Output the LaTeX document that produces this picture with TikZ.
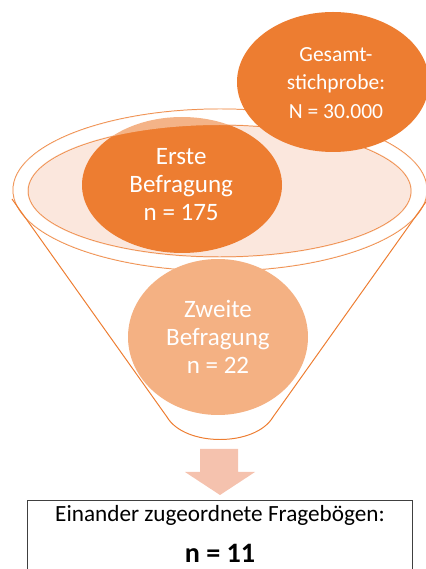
\documentclass[tikz,border=0pt]{standalone}
\usepackage{fontspec}
\setmainfont{Carlito}
\usepackage{tikz}

\definecolor{dunkelorange}{HTML}{ED7D31}
\definecolor{hellorange}{HTML}{F4B183}
\definecolor{trichterinnen}{HTML}{FBE7DD}
\definecolor{pfeilfarbe}{HTML}{F5C2AE}

\begin{document}
\begin{tikzpicture}[
        trichter/.style={draw=dunkelorange, line width=0.7pt},
        kreistext/.style={text=white, align=center},
    ]
        \useasboundingbox (0, 0) rectangle (10.65, 14.225);

        % Trichter oben
        \draw[trichter] (5.5, 9.475) circle[x radius=5.175, y radius=2.025];
        \draw[trichter, fill=trichterinnen] (5.49, 9.45) circle[x radius=4.79, y radius=1.65];

        \fill[dunkelorange] (4.55, 9.6) circle[x radius=2.5, y radius=1.7];
        % Rand halbtransparent ueber dem Kreis
        \fill[white, opacity=0.42, even odd rule] (5.5, 9.475) circle[x radius=5.175, y radius=2.025]
            (5.49, 9.45) circle[x radius=4.79, y radius=1.65];

        % Trichter unten
        \draw[trichter] (0.3, 9.25) -- (4.175, 3.8)
            .. controls (4.62, 3.05) and (6.38, 3.05) .. (6.825, 3.8) -- (10.7, 9.25);

        \fill[dunkelorange] (8.325, 12.175) circle[x radius=2.4, y radius=1.75];
        \fill[hellorange] (5.45, 5.8) circle[x radius=2.25, y radius=1.95];

        \node[kreistext, font=\fontsize{15.3}{20}\selectfont] (gesamt) at (8.4, 12.15)
            {Gesamt-\\stichprobe:\\N = 30.000};
        \node[kreistext, font=\fontsize{17.8}{19.9}\selectfont] (erste) at (4.53, 9.6)
            {Erste\\Befragung\\n = 175};
        \node[kreistext, font=\fontsize{17.8}{19.9}\selectfont] (zweite) at (5.45, 5.8)
            {Zweite\\Befragung\\n = 22};

        % Pfeil
        \fill[pfeilfarbe] (5.0, 3.0) -- (5.95, 3.0) -- (5.95, 2.425) -- (6.375, 2.425)
            -- (5.5, 1.85) -- (4.625, 2.425) -- (5.0, 2.425) -- cycle;

        % Ergebnis
        \draw[line width=0.7pt, draw=black!75] (0.675, 1.725) rectangle (10.3, -0.5);
        \node[font=\fontsize{16.5}{20}\selectfont] (zuordnung) at (5.5, 1.35)
            {Einander zugeordnete Fragebögen:};
        \node[font=\fontsize{20}{24}\selectfont\bfseries] (ergebnis) at (5.5, 0.4) {n = 11};
    \end{tikzpicture}
\end{document}
